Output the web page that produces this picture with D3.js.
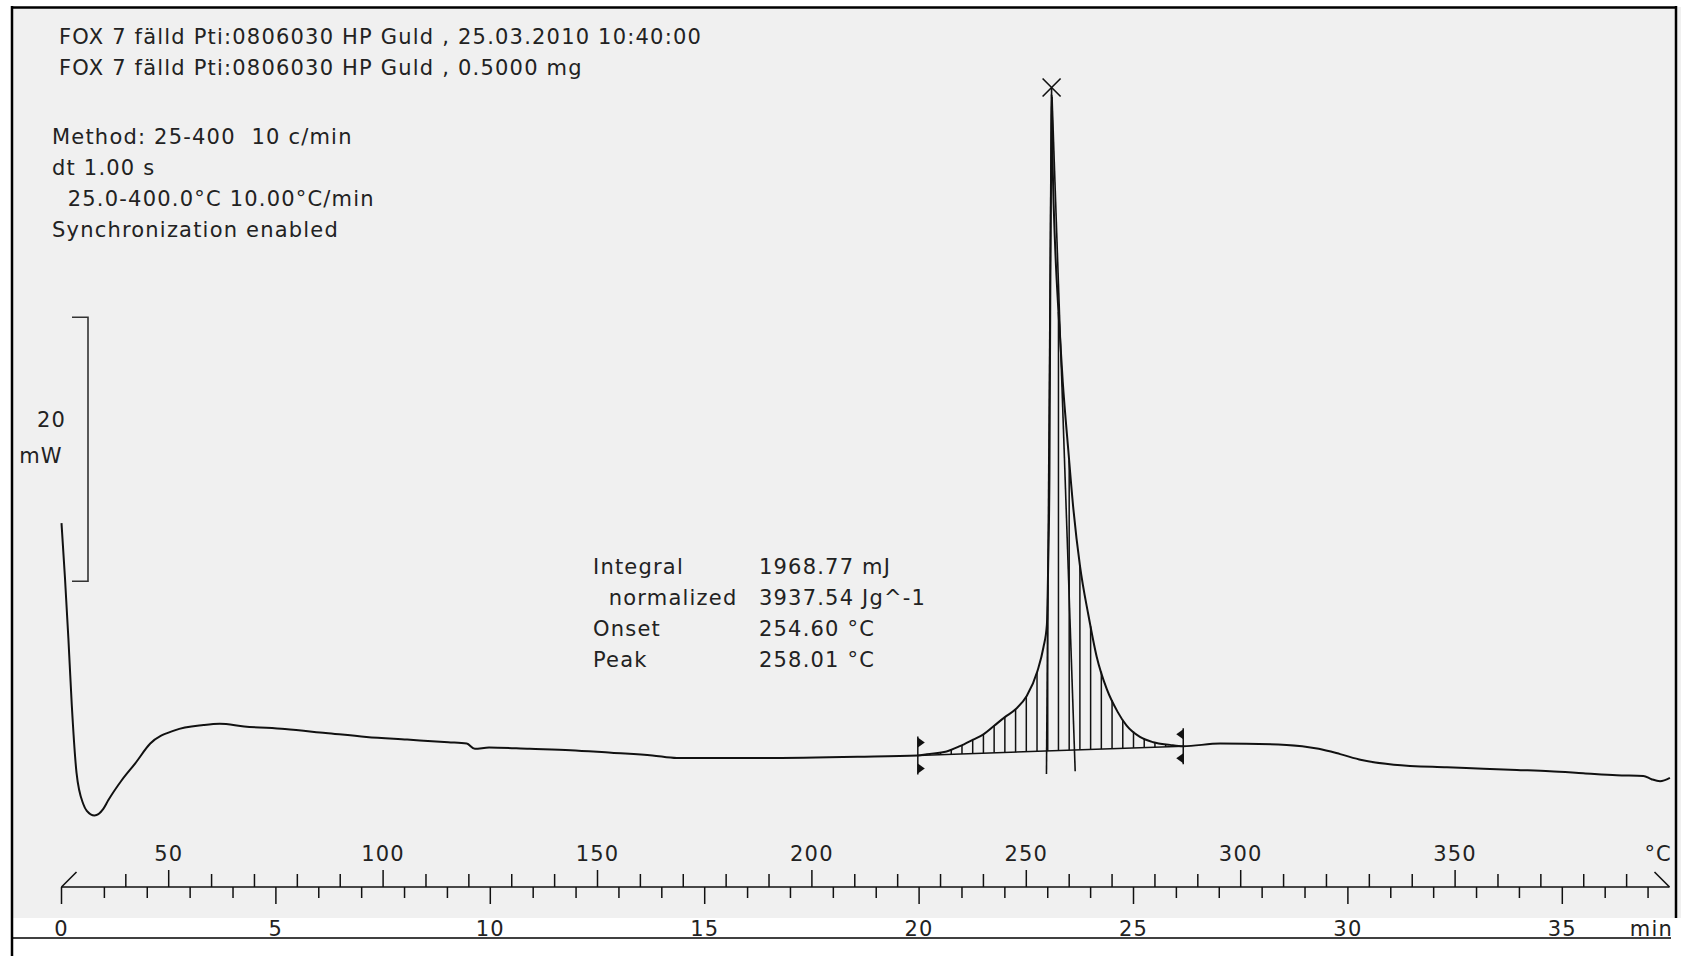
<!DOCTYPE html>
<html>
<head>
<meta charset="utf-8">
<script src="https://cdn.jsdelivr.net/npm/d3@7"></script>
<style>
  body { margin: 0; background: #fff; }
  text { font-family: "DejaVu Sans", Verdana, sans-serif; fill: #222; letter-spacing: 1.2px; }
</style>
</head>
<body>
<div id="chart"></div>
<script>
// DSC curve: time in min, heat flow in mW (arbitrary zero)
const timeMin = [0.0, 0.08, 0.16, 0.24, 0.35, 0.51, 0.59, 0.77, 0.975, 1.09, 1.40, 1.72, 2.07, 2.64, 3.31, 3.69, 4.26,
  5.21, 6.16, 7.11, 8.06, 9.02, 9.45, 9.64, 9.97, 10.92, 11.87, 12.82, 13.78, 14.35, 16.07, 18.57,
  19.97, 20.18, 20.64, 20.95, 21.26, 21.50, 21.75, 22.00, 22.25, 22.51, 22.76, 22.90, 22.98, 23.01,
  23.04, 23.06, 23.08, 23.09, 23.12, 23.17, 23.25, 23.35, 23.48, 23.60, 23.75, 23.95, 24.14, 24.38,
  24.63, 24.84, 25.15, 25.46, 25.85, 26.16, 27.02, 28.57, 29.32, 29.82, 30.32, 31.07, 32.31, 33.16,
  33.94, 34.71, 35.49, 36.27, 36.89, 37.08, 37.28, 37.51];
const heatFlow = [13.4, 9.3, 4.7, -0.4, -5.5, -7.9, -8.4, -8.75, -8.25, -7.6, -6.1, -4.8, -3.3, -2.3, -1.9, -1.8, -2.0,
  -2.2, -2.5, -2.8, -3.0, -3.2, -3.3, -3.7, -3.6, -3.7, -3.8, -4.0, -4.2, -4.4, -4.4, -4.3,
  -4.2, -4.1, -3.9, -3.5, -3.0, -2.6, -1.95, -1.3, -0.7, 0.3, 2.2, 4.0, 5.7, 10.2,
  17.2, 31.1, 41.5, 45.9, 39.8, 34.6, 29.4, 24.1, 18.9, 14.4, 10.2, 6.4, 3.3, 0.8,
  -0.9, -1.95, -2.8, -3.2, -3.4, -3.5, -3.3, -3.4, -3.7, -4.1, -4.55, -4.9, -5.1, -5.2,
  -5.3, -5.4, -5.55, -5.7, -5.75, -6.0, -6.15, -5.9];

// integration limits (min) and the two tangent lines [t, mW]
const integLimits = [19.97, 26.16];
const tangentA = [[23.09, 46.4], [22.97, -5.6]];
const tangentB = [[23.10, 45.7], [23.64, -5.4]];
const peakMark = [23.09, 46.4];

// axes
const tempTicksMajor = [50, 100, 150, 200, 250, 300, 350];
const tempTicksMinor = d3.range(40, 400, 10);
const timeTicksMajor = [0, 5, 10, 15, 20, 25, 30, 35];
const timeTicksMinor = d3.range(0, 38, 1);
const scaleBarMW = [9, 29];

// texts
const headerLines = [
  "FOX 7 fälld Pti:0806030 HP Guld , 25.03.2010 10:40:00",
  "FOX 7 fälld Pti:0806030 HP Guld , 0.5000 mg"
];
const methodLines = [
  "Method: 25-400  10 c/min",
  "dt 1.00 s",
  "  25.0-400.0°C 10.00°C/min",
  "Synchronization enabled"
];
const resultLabels = ["Integral", "  normalized", "Onset", "Peak"];
const resultValues = ["1968.77 mJ", "3937.54 Jg^-1", "254.60 °C", "258.01 °C"];

const width = 1681, height = 956;
const svg = d3.select("#chart").append("svg")
  .attr("width", width).attr("height", height);

// background and frame
svg.append("rect").attr("x", 12).attr("y", 7).attr("width", width - 12).attr("height", 911)
  .attr("fill", "#f0f0f0");
svg.append("line").attr("x1", 11).attr("x2", 1677).attr("y1", 7.5).attr("y2", 7.5)
  .attr("stroke", "#000").attr("stroke-width", 2.5);
svg.append("line").attr("x1", 12).attr("x2", 12).attr("y1", 6).attr("y2", height)
  .attr("stroke", "#000").attr("stroke-width", 2.5);
svg.append("line").attr("x1", 1676).attr("x2", 1676).attr("y1", 6).attr("y2", 918)
  .attr("stroke", "#000").attr("stroke-width", 2.5);
svg.append("line").attr("x1", 12).attr("x2", 1671).attr("y1", 938).attr("y2", 938)
  .attr("stroke", "#000").attr("stroke-width", 1.5);

// scales
const x = d3.scaleLinear().domain([0, 37.5]).range([61.5, 1669.5]);
const xT = d3.scaleLinear().domain([25, 400]).range([61.5, 1669.5]);
const y = d3.scaleLinear().domain([-15, 50]).range([898, 40]);

const data = timeMin.map((t, i) => ({ t: t, v: heatFlow[i] }));

function valueAt(t) {
  const i = d3.bisector(d => d.t).left(data, t);
  if (i <= 0) return data[0].v;
  if (i >= data.length) return data[data.length - 1].v;
  const a = data[i - 1], b = data[i];
  return a.v + (b.v - a.v) * (t - a.t) / (b.t - a.t);
}

// baseline under the peak
const b0 = { t: integLimits[0], v: valueAt(integLimits[0]) };
const b1 = { t: integLimits[1], v: valueAt(integLimits[1]) };
const baseAt = t => b0.v + (b1.v - b0.v) * (t - b0.t) / (b1.t - b0.t);

// hatching
const hatchT = d3.range(20.25, 26.1, 0.25);
svg.append("g").selectAll("line").data(hatchT).enter().append("line")
  .attr("x1", d => x(d)).attr("x2", d => x(d))
  .attr("y1", d => y(baseAt(d))).attr("y2", d => y(valueAt(d)))
  .attr("stroke", "#111").attr("stroke-width", 1.5);

svg.append("line")
  .attr("x1", x(b0.t)).attr("y1", y(b0.v)).attr("x2", x(b1.t)).attr("y2", y(b1.v))
  .attr("stroke", "#111").attr("stroke-width", 1.4);

// tangents
[tangentA, tangentB].forEach(tl => {
  svg.append("line")
    .attr("x1", x(tl[0][0])).attr("y1", y(tl[0][1]))
    .attr("x2", x(tl[1][0])).attr("y2", y(tl[1][1]))
    .attr("stroke", "#111").attr("stroke-width", 1.6);
});

// curve
svg.append("path").datum(data)
  .attr("fill", "none").attr("stroke", "#111").attr("stroke-width", 2)
  .attr("d", d3.line().x(d => x(d.t)).y(d => y(d.v)).curve(d3.curveMonotoneX));

// peak marker
const px = x(peakMark[0]), py = y(peakMark[1]);
svg.append("path")
  .attr("d", `M${px - 9},${py - 9}L${px + 9},${py + 9}M${px - 9},${py + 9}L${px + 9},${py - 9}`)
  .attr("stroke", "#111").attr("stroke-width", 1.6).attr("fill", "none");

// integration limit flags
function flag(t, dir, upOff, downOff) {
  const fx = x(t), fy = y(valueAt(t));
  svg.append("line").attr("x1", fx).attr("x2", fx).attr("y1", fy - upOff - 6).attr("y2", fy + downOff + 6)
    .attr("stroke", "#111").attr("stroke-width", 1.5);
  [fy - upOff, fy + downOff].forEach(cy => {
    svg.append("path")
      .attr("d", `M${fx},${cy - 5}L${fx + dir * 7},${cy}L${fx},${cy + 5}Z`)
      .attr("fill", "#111");
  });
}
flag(integLimits[0], 1, 13, 13);
flag(integLimits[1], -1, 12, 12);

// scale bar 20 mW
const sbx = 88;
svg.append("path")
  .attr("d", `M72,${y(scaleBarMW[1])}H${sbx}V${y(scaleBarMW[0])}H72`)
  .attr("fill", "none").attr("stroke", "#333").attr("stroke-width", 1.6);
svg.append("text").attr("x", 66).attr("y", 427).attr("text-anchor", "end")
  .style("font-size", "21px").text("20");
svg.append("text").attr("x", 41).attr("y", 463).attr("text-anchor", "middle")
  .style("font-size", "21px").text("mW");

// axis: temperature above, time below
const axY = 887;
svg.append("line").attr("x1", x(0)).attr("x2", x(37.5)).attr("y1", axY).attr("y2", axY)
  .attr("stroke", "#111").attr("stroke-width", 1.6);
svg.append("path").attr("d", `M${x(0)},${axY}L${x(0) + 15},${axY - 15}`)
  .attr("stroke", "#111").attr("stroke-width", 1.6).attr("fill", "none");
svg.append("path").attr("d", `M${x(37.5) - 15},${axY - 15}L${x(37.5)},${axY}`)
  .attr("stroke", "#111").attr("stroke-width", 1.6).attr("fill", "none");

svg.append("g").selectAll("line").data(tempTicksMinor).enter().append("line")
  .attr("x1", d => xT(d)).attr("x2", d => xT(d))
  .attr("y1", axY).attr("y2", d => tempTicksMajor.includes(d) ? axY - 17 : axY - 13)
  .attr("stroke", "#111").attr("stroke-width", 1.5);
svg.append("g").selectAll("text").data(tempTicksMajor).enter().append("text")
  .attr("x", d => xT(d)).attr("y", 861).attr("text-anchor", "middle")
  .style("font-size", "21px").text(d => d);
svg.append("text").attr("x", 1672).attr("y", 861).attr("text-anchor", "end")
  .style("font-size", "21px").text("°C");

svg.append("g").selectAll("line").data(timeTicksMinor).enter().append("line")
  .attr("x1", d => x(d)).attr("x2", d => x(d))
  .attr("y1", axY).attr("y2", d => timeTicksMajor.includes(d) ? axY + 17 : axY + 11)
  .attr("stroke", "#111").attr("stroke-width", 1.5);
svg.append("g").selectAll("text").data(timeTicksMajor).enter().append("text")
  .attr("x", d => x(d)).attr("y", 936).attr("text-anchor", "middle")
  .style("font-size", "21px").text(d => d);
svg.append("text").attr("x", 1673).attr("y", 936).attr("text-anchor", "end")
  .style("font-size", "21px").text("min");

// header and method text
headerLines.forEach((s, i) => {
  svg.append("text").attr("x", 59).attr("y", 44 + i * 31)
    .style("font-size", "21px").style("white-space", "pre").text(s);
});
methodLines.forEach((s, i) => {
  svg.append("text").attr("x", 52).attr("y", 144 + i * 31)
    .style("font-size", "21px").style("white-space", "pre").text(s);
});

// result block
resultLabels.forEach((s, i) => {
  svg.append("text").attr("x", 593).attr("y", 574 + i * 31).style("white-space", "pre")
    .style("font-size", "21px").text(s);
  svg.append("text").attr("x", 759).attr("y", 574 + i * 31)
    .style("font-size", "21px").text(resultValues[i]);
});
</script>
</body>
</html>
